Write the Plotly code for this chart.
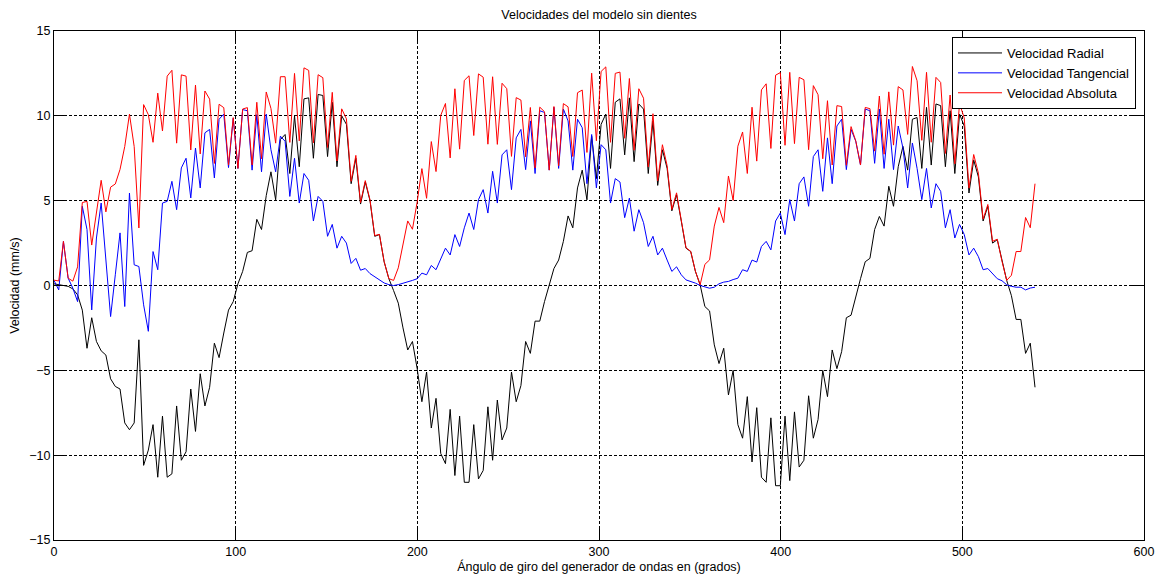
import numpy as np
import plotly.graph_objects as go

# Radial velocity (mm/s), one sample per ~2.6 degrees from 0 to 540
radial = [
    0.1, 0.05, 0.0, -0.05, -0.2, -0.55, -1.45, -3.7, -1.9, -3.3,
    -3.85, -4.1, -5.5, -5.95, -6.1, -8.1, -8.5, -8.1, -3.2, -10.6,
    -9.7, -8.2, -11.3, -7.7, -11.3, -11.1, -7.1, -10.3, -9.8, -6.1,
    -8.6, -5.2, -7.1, -6.0, -3.4, -4.25, -2.8, -1.45, -0.95, 0.1,
    0.83, 1.95, 2.05, 3.9, 3.3, 5.3, 6.7, 5.05, 8.6, 8.9,
    6.6, 10.0, 7.0, 11.0, 11.06, 7.5, 11.26, 11.2, 7.6, 10.8,
    7.0, 10.0, 9.5, 6.0, 7.5, 4.8, 6.1, 5.0, 2.9, 3.0,
    1.4, 0.4, -0.3, -1.04, -2.5, -3.8, -3.3, -4.9, -6.85, -5.1,
    -8.4, -6.65, -9.9, -10.5, -7.3, -11.2, -7.7, -11.6, -11.6, -8.2,
    -11.4, -10.9, -7.15, -10.3, -6.75, -9.1, -8.4, -5.1, -6.85, -5.9,
    -3.3, -4.0, -2.1, -2.1, -0.95, 0.1, 1.0, 1.5, 2.6, 4.1,
    3.4, 5.75, 6.8, 5.05, 8.8, 6.3, 9.5, 10.1, 6.9, 10.8,
    11.0, 7.7, 11.06, 7.3, 10.7, 10.4, 6.6, 9.7, 5.9, 8.0,
    6.9, 4.4, 5.35, 3.8, 2.2, 2.0, 0.83, 0.04, -1.24, -1.5,
    -3.5, -4.6, -3.7, -6.45, -5.0, -8.2, -9.0, -6.55, -10.4, -7.2,
    -11.3, -11.6, -7.8, -11.8, -11.8, -7.7, -11.5, -7.45, -10.7, -10.3,
    -6.5, -9.0, -7.9, -5.0, -6.55, -3.8, -4.9, -3.9, -1.9, -1.75,
    -0.6, 0.4, 1.4, 1.6, 3.3, 4.07, 3.5, 5.85, 4.67, 7.0,
    8.2, 6.8, 9.8, 9.9, 6.9, 10.5, 7.1, 10.7, 10.6, 7.0,
    10.3, 6.6, 10.1, 9.4, 5.45, 7.4, 6.4, 3.8, 4.67, 2.5,
    2.7, 1.4, 0.3, -0.6, -2.0, -2.0, -4.0, -3.4, -6.0,
]

# Tangential velocity (mm/s), same angular samples
tangencial = [
    0.3, -0.26, 2.6, 0.43, -0.16, -0.95, 4.67, 3.3, -1.44, 2.8,
    4.86, 1.42, -1.83, 0.63, 3.1, -1.24, 5.45, 1.22, 1.12, -1.14,
    -2.7, 2.0, 0.93, 4.86, 4.96, 6.14, 4.47, 6.93, 7.5, 5.16,
    8.1, 5.75, 9.0, 9.2, 6.34, 9.8, 10.1, 6.95, 9.85, 6.9,
    10.37, 10.3, 6.8, 10.07, 6.7, 10.1, 8.0, 6.7, 8.8, 8.5,
    5.25, 7.5, 4.86, 6.6, 6.2, 3.8, 5.25, 4.96, 2.9, 3.6,
    2.2, 2.9, 2.5, 1.3, 1.6, 0.9, 1.0, 0.7, 0.5, 0.3,
    0.15, 0.05, 0.0, 0.05, 0.12, 0.2, 0.3, 0.4, 0.73, 0.63,
    1.18, 0.93, 1.6, 2.2, 1.8, 3.0, 2.3, 3.4, 4.27, 3.3,
    5.06, 5.65, 4.27, 6.73, 4.86, 7.7, 8.0, 5.65, 8.7, 9.2,
    6.83, 9.7, 6.6, 10.3, 10.2, 6.8, 10.5, 6.9, 10.4, 9.7,
    6.8, 9.8, 9.3, 6.0, 8.9, 5.75, 8.3, 8.0, 4.86, 6.3,
    6.1, 4.0, 5.15, 3.2, 4.47, 3.7, 2.3, 2.9, 1.8, 2.2,
    1.5, 0.83, 1.1, 0.63, 0.33, 0.24, 0.14, 0.0, -0.1, -0.16,
    -0.1, 0.1, 0.2, 0.24, 0.35, 0.43, 0.93, 0.83, 1.5, 1.38,
    2.3, 2.6, 2.1, 3.8, 4.27, 3.0, 5.06, 3.8, 6.0, 6.4,
    4.67, 7.6, 8.0, 5.55, 8.7, 6.0, 9.4, 9.8, 6.83, 9.2,
    8.5, 7.1, 10.4, 10.3, 7.2, 10.4, 6.9, 9.8, 6.83, 9.4,
    8.1, 5.75, 8.4, 6.9, 5.06, 6.9, 4.57, 6.0, 5.55, 3.4,
    4.47, 2.8, 3.6, 3.0, 1.8, 2.2, 1.7, 0.93, 1.0, 0.73,
    0.4, 0.28, 0.04, -0.05, -0.1, -0.1, -0.26, -0.15, -0.1,
]

# Angle of the wave generator, degrees, evenly spaced samples
angulo = np.linspace(0, 540, len(radial))

# Absolute velocity: magnitude of the (radial, tangential) velocity vector
absoluta = np.hypot(np.array(radial), np.array(tangencial))

series = [
    ("Velocidad Radial", radial, "#000000"),
    ("Velocidad Tangencial", tangencial, "#0000ff"),
    ("Velocidad Absoluta", absoluta, "#ff0000"),
]

fig = go.Figure()
for nombre, valores, color in series:
    fig.add_trace(go.Scatter(
        x=angulo, y=valores, mode="lines", name=nombre,
        line=dict(color=color, width=1),
    ))

FONT = "Liberation Sans, Arial, sans-serif"

axis_common = dict(
    showline=True, linecolor="#000000", linewidth=1, mirror="ticks",
    ticks="inside", ticklen=12, tickwidth=1, tickcolor="#000000",
    showgrid=True, gridcolor="#000000", gridwidth=1, griddash="3px,2px",
    zeroline=False, automargin=False,
    tickfont=dict(family=FONT, size=12.5, color="#000000"),
)

fig.update_layout(
    width=1160, height=578,
    margin=dict(l=54, r=16, t=31, b=38),
    paper_bgcolor="#ffffff", plot_bgcolor="#ffffff",
    font=dict(family=FONT, size=12.5, color="#000000"),
    title=dict(
        text="Velocidades del modelo sin dientes",
        x=0.5, xref="paper", xanchor="center",
        y=1 - 15 / 578, yref="container", yanchor="middle",
        font=dict(family=FONT, size=12.5, color="#000000"),
    ),
    xaxis=dict(
        range=[0, 600], tickmode="array", tickvals=[0, 100, 200, 300, 400, 500, 600],
        title=dict(text="Ángulo de giro del generador de ondas en (grados)",
                   standoff=4, font=dict(family=FONT, size=12.5)),
        **axis_common,
    ),
    yaxis=dict(
        range=[-15, 15], tickmode="array", tickvals=[-15, -10, -5, 0, 5, 10, 15],
        title=dict(text="Velocidad (mm/s)", standoff=6, font=dict(family=FONT, size=12.5)),
        **axis_common,
    ),
    legend=dict(
        x=(952 - 54) / 1090, y=(540 - 37) / 509, xanchor="left", yanchor="top",
        bgcolor="#ffffff", bordercolor="#000000", borderwidth=1,
        font=dict(family=FONT, size=13, color="#000000"),
        tracegroupgap=0, itemwidth=44,
    ),
    showlegend=True,
)

fig.write_html("out.html")
